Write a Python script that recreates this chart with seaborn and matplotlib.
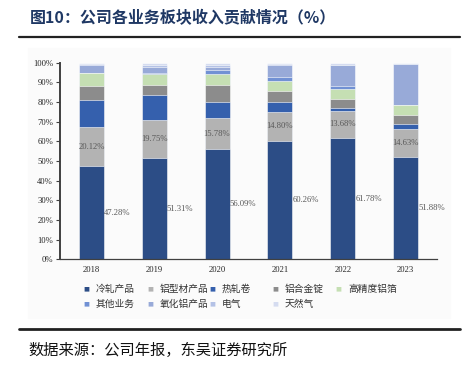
import numpy as np
import pandas as pd
import matplotlib
matplotlib.use('Agg')
import matplotlib.pyplot as plt
import seaborn as sns
from matplotlib.lines import Line2D
from matplotlib.patches import Rectangle

# 数据（%）
years = ['2018', '2019', '2020', '2021', '2022', '2023']
segments = ['冷轧产品', '铝型材产品', '热轧卷', '铝合金锭', '高精度铝箔',
            '其他业务', '氧化铝产品', '电气', '天然气']
cold_rolled = [47.28, 51.31, 56.09, 60.26, 61.78, 51.88]
profiles = [20.12, 19.75, 15.78, 14.80, 13.68, 14.63]
hot_rolled = [13.8, 12.4, 8.2, 5.1, 1.7, 2.4]
alloy_ingot = [7.2, 5.0, 8.6, 5.6, 4.2, 4.4]
foil = [6.2, 5.7, 5.4, 4.7, 5.4, 5.1]
other = [0.4, 0.4, 2.0, 2.5, 1.4, 0.1]
alumina = [3.6, 3.5, 1.9, 5.8, 10.5, 20.7]
electric = [0.8, 1.0, 1.1, 0.5, 0.3, 0.3]
gas = [0.6, 0.94, 0.93, 0.74, 1.04, 0.48]
colors = ['#2c4d86', '#b3b3b3', '#3560ad', '#8c8c8c', '#c5dfb3',
          '#7191d4', '#98aad8', '#b4c2e6', '#d5dcf0']

df = pd.DataFrame([cold_rolled, profiles, hot_rolled, alloy_ingot, foil,
                   other, alumina, electric, gas], index=segments, columns=years)
cum = df.cumsum()

sns.set_style('white')
plt.rcParams['font.family'] = ['Liberation Serif', 'Noto Sans CJK SC']
cjk = ['Noto Sans CJK SC', 'DejaVu Sans']

fig = plt.figure(figsize=(4.62, 3.66), dpi=100)
fig.patches.append(Rectangle((28 / 462, 1 - 318 / 366), 422 / 462, 270 / 366,
                             transform=fig.transFigure, color='#fbfbfb', zorder=-10))
ax = fig.add_axes([60 / 462, 1 - 259.3 / 366, 377 / 462, 196.6 / 366])
ax.set_zorder(2)
ax.patch.set_alpha(0)

# 堆叠：从最上层开始画，下层覆盖
for i in range(len(segments) - 1, -1, -1):
    sns.barplot(x=years, y=cum.iloc[i].values, color=colors[i], saturation=1,
                width=0.4, edgecolor='white', linewidth=0.4, ax=ax, order=years)

# 数据标签
for j, y in enumerate(years):
    v = df.loc['冷轧产品', y]
    ax.text(j + 0.2, v / 2, f'{v:.2f}%', ha='left', va='center',
            fontsize=6.2, color='#595959')
    v2 = df.loc['铝型材产品', y]
    ax.text(j, v + v2 / 2, f'{v2:.2f}%', ha='center', va='center',
            fontsize=6.2, color='#595959')

ax.set_xlim(-0.5, 5.5)
ax.set_ylim(0, 100)
ax.set_yticks(np.arange(0, 101, 10))
ax.set_yticklabels([f'{t}%' for t in range(0, 101, 10)], fontsize=6.2)
ax.set_xticks(range(6))
ax.set_xticklabels(years, fontsize=6.2)
ax.set_xticks(np.arange(0.5, 6, 1), minor=True)
ax.tick_params(axis='x', which='major', length=0, pad=5)
ax.tick_params(axis='x', which='minor', length=3, direction='out', width=0.8, color='#404040')
ax.tick_params(axis='y', length=3, direction='out', width=0.8, color='#404040', pad=2, left=True)
ax.set_xlabel('')
ax.set_ylabel('')
for s in ['top', 'right']:
    ax.spines[s].set_visible(False)
ax.spines['left'].set_color('#404040')
ax.spines['left'].set_linewidth(1.4)
ax.spines['bottom'].set_color('#404040')
ax.spines['bottom'].set_linewidth(0.9)

# 图例（两行，每行5个）
lx = [86, 150, 212, 275, 338]
ly = [289, 304]
for k, name in enumerate(segments):
    r, c = divmod(k, 5)
    x0 = lx[c] / 462
    y0 = 1 - ly[r] / 366
    fig.text(x0, y0, '■', color=colors[k], fontsize=4.5, ha='center', va='center',
             family='DejaVu Sans')
    fig.text(x0 + 10 / 462, y0, name, fontsize=7, ha='left', va='center',
             family=cjk, color='#333333')

# 标题、来源
fig.text(30 / 462, 1 - 18 / 366, '图10：公司各业务板块收入贡献情况（%）', fontsize=11.5,
         fontweight='bold', color='#1f3864', family=cjk, ha='left', va='center')
fig.add_artist(Line2D([19 / 462, 460 / 462], [1 - 37 / 366] * 2, color='#222222', lw=1.6))
fig.add_artist(Line2D([19 / 462, 460 / 462], [1 - 329 / 366] * 2, color='#222222', lw=2))
fig.text(28 / 462, 1 - 350 / 366, '数据来源：公司年报，东吴证券研究所', fontsize=11,
         color='#111111', family=cjk, ha='left', va='center')

fig.savefig('out.png', dpi=100)
